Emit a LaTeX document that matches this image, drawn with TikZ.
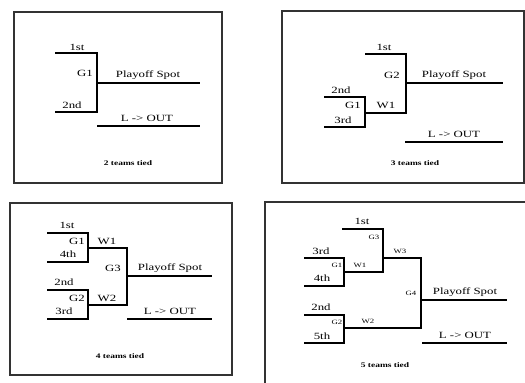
\documentclass[tikz,border=0pt]{standalone}
\usepackage{fontspec}
\setmainfont{Liberation Serif}[FakeStretch=1.35]
\usetikzlibrary{calc}

\tikzset{
    frame/.style={draw=black!80, line width=2.8pt},
    bracket/.style={draw=black, line width=1.7pt},
    lbl/.style={inner sep=0pt, font=\fontsize{9.5}{10}\selectfont},
    lblsmall/.style={inner sep=0pt, font=\fontsize{6.5}{7}\selectfont},
    tied/.style={inner sep=0pt, font=\fontsize{7}{8}\selectfont\bfseries},
}

\begin{document}
\begin{tikzpicture}[x=1pt,y=-1pt]
    \useasboundingbox (0,0) rectangle (525,383);

    % frames
    \draw[frame] (14,12) rectangle (222,183);
    \draw[frame] (282,11) rectangle (524,183);
    \draw[frame] (10,203) rectangle (232,375);
    \draw[frame] (265,202) rectangle (532,392);

    % 2 teams tied
    \coordinate (A1) at (55,53);
    \coordinate (B1) at (97,53);
    \coordinate (C1) at (97,112);
    \coordinate (D1) at (55,112);
    \coordinate (P1) at (97,83);
    \coordinate (Q1) at (200,83);
    \coordinate (L1) at (97,126);
    \coordinate (M1) at (200,126);
    \draw[bracket] (A1) -- (B1) -- (C1) -- (D1) (P1) -- (Q1) (L1) -- (M1);
    \node[lbl] (first1) at (77,47) {1st};
    \node[lbl] (gone1) at (85,73) {G1};
    \node[lbl] (second1) at (72,105) {2nd};
    \node[lbl] (spot1) at (148,75) {Playoff Spot};
    \node[lbl] (out1) at (147,118) {L -> OUT};
    \node[tied] (tied1) at (128,163) {2 teams tied};

    % 3 teams tied
    \coordinate (A2) at (365,54);
    \coordinate (B2) at (406,54);
    \coordinate (C2) at (406,113);
    \coordinate (D2) at (365,113);
    \coordinate (E2) at (324,97);
    \coordinate (F2) at (365,97);
    \coordinate (G2) at (365,127);
    \coordinate (H2) at (324,127);
    \coordinate (P2) at (406,83);
    \coordinate (Q2) at (503,83);
    \coordinate (L2) at (405,142);
    \coordinate (M2) at (503,142);
    \draw[bracket] (A2) -- (B2) -- (C2) -- (D2) (E2) -- (F2) -- (G2) -- (H2)
        (P2) -- (Q2) (L2) -- (M2);
    \node[lbl] (first2) at (384,47) {1st};
    \node[lbl] (gtwo2) at (392,75) {G2};
    \node[lbl] (second2) at (341,90) {2nd};
    \node[lbl] (gone2) at (353,105) {G1};
    \node[lbl] (wone2) at (386,105) {W1};
    \node[lbl] (third2) at (343,120) {3rd};
    \node[lbl] (spot2) at (454,75) {Playoff Spot};
    \node[lbl] (out2) at (454,134) {L -> OUT};
    \node[tied] (tied2) at (415,163) {3 teams tied};

    % 4 teams tied
    \coordinate (A3) at (47,233);
    \coordinate (B3) at (88,233);
    \coordinate (C3) at (88,262);
    \coordinate (D3) at (47,262);
    \coordinate (E3) at (47,290);
    \coordinate (F3) at (88,290);
    \coordinate (G3) at (88,319);
    \coordinate (H3) at (47,319);
    \coordinate (I3) at (88,248);
    \coordinate (J3) at (127,248);
    \coordinate (K3) at (127,305);
    \coordinate (N3) at (88,305);
    \coordinate (P3) at (127,276);
    \coordinate (Q3) at (212,276);
    \coordinate (L3) at (127,319);
    \coordinate (M3) at (212,319);
    \draw[bracket] (A3) -- (B3) -- (C3) -- (D3) (E3) -- (F3) -- (G3) -- (H3)
        (I3) -- (J3) -- (K3) -- (N3) (P3) -- (Q3) (L3) -- (M3);
    \node[lbl] (first3) at (67,225) {1st};
    \node[lbl] (gone3) at (77,241) {G1};
    \node[lbl] (fourth3) at (68,254) {4th};
    \node[lbl] (wone3) at (107,241) {W1};
    \node[lbl] (gthree3) at (113,268) {G3};
    \node[lbl] (second3) at (64,282) {2nd};
    \node[lbl] (gtwo3) at (77,298) {G2};
    \node[lbl] (wtwo3) at (107,298) {W2};
    \node[lbl] (third3) at (64,311) {3rd};
    \node[lbl] (spot3) at (170,268) {Playoff Spot};
    \node[lbl] (out3) at (170,311) {L -> OUT};
    \node[tied] (tied3) at (120,356) {4 teams tied};

    % 5 teams tied
    \coordinate (A4) at (342,229);
    \coordinate (B4) at (383,229);
    \coordinate (C4) at (383,272);
    \coordinate (D4) at (344,272);
    \coordinate (E4) at (304,258);
    \coordinate (F4) at (344,258);
    \coordinate (G4) at (344,286);
    \coordinate (H4) at (304,286);
    \coordinate (I4) at (383,258);
    \coordinate (J4) at (421,258);
    \coordinate (K4) at (421,328);
    \coordinate (N4) at (344,328);
    \coordinate (R4) at (304,315);
    \coordinate (S4) at (344,315);
    \coordinate (T4) at (344,343);
    \coordinate (U4) at (304,343);
    \coordinate (P4) at (421,300);
    \coordinate (Q4) at (507,300);
    \coordinate (L4) at (422,343);
    \coordinate (M4) at (507,343);
    \draw[bracket] (A4) -- (B4) -- (C4) -- (D4) (E4) -- (F4) -- (G4) -- (H4)
        (I4) -- (J4) -- (K4) -- (N4) (R4) -- (S4) -- (T4) -- (U4)
        (P4) -- (Q4) (L4) -- (M4);
    \node[lbl] (first4) at (362,221) {1st};
    \node[lblsmall] (gthree4) at (374,237) {G3};
    \node[lbl] (third4) at (321,251) {3rd};
    \node[lblsmall] (gone4) at (337,265) {G1};
    \node[lblsmall] (wone4) at (360,265) {W1};
    \node[lblsmall] (wthree4) at (400,251) {W3};
    \node[lbl] (fourth4) at (322,278) {4th};
    \node[lblsmall] (gfour4) at (411,293) {G4};
    \node[lbl] (second4) at (321,307) {2nd};
    \node[lblsmall] (gtwo4) at (337,322) {G2};
    \node[lblsmall] (wtwo4) at (368,321) {W2};
    \node[lbl] (fifth4) at (322,336) {5th};
    \node[lbl] (spot4) at (465,292) {Playoff Spot};
    \node[lbl] (out4) at (465,335) {L -> OUT};
    \node[tied] (tied4) at (385,365) {5 teams tied};
\end{tikzpicture}
\end{document}
